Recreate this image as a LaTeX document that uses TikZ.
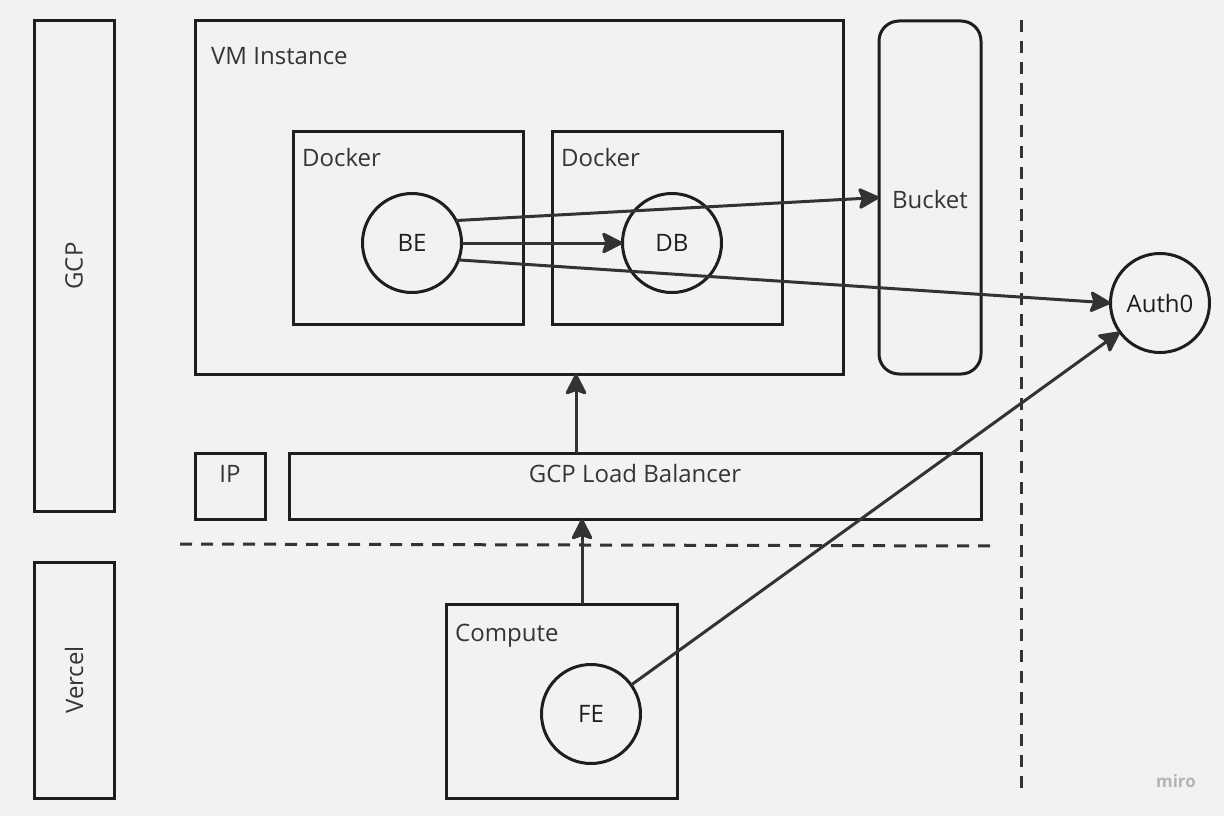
\documentclass[tikz,border=0pt]{standalone}
\usepackage{fontspec}
\setmainfont{Open Sans}
\usetikzlibrary{arrows.meta,calc}
\definecolor{bg}{HTML}{F2F2F2}
\definecolor{ink}{HTML}{1E1E1E}
\definecolor{arrowc}{HTML}{333333}
\definecolor{wm}{HTML}{B4B4B4}
\tikzset{
  box/.style={draw=ink, line width=3pt, rectangle, inner sep=0pt, outer sep=0pt},
  circ/.style={draw=ink, line width=3pt, circle, minimum size=99pt, inner sep=0pt, outer sep=0pt, font=\fontsize{24}{28}\selectfont, text=ink},
  lbl/.style={font=\fontsize{24}{28}\selectfont, text=ink!90, inner sep=0pt},
  arr/.style={draw=arrowc, line width=3pt, -{Stealth[length=23pt,width=23pt,inset=4pt,round]}},
  dash line/.style={draw=arrowc, line width=3pt, dash pattern=on 12pt off 9pt},
}
\begin{document}
\begin{tikzpicture}[x=1pt,y=-1pt]
\fill[bg] (0,0) rectangle (1224,816);
\useasboundingbox (0,0) rectangle (1224,816);

% side boxes
\node[box, minimum width=80pt, minimum height=490pt] (gcp) at (74,266) {};
\node[lbl, rotate=90] (gcpl) at (gcp.center) {GCP};
\node[box, minimum width=80pt, minimum height=236pt] (vercel) at (74,680) {};
\node[lbl, rotate=90] (vercell) at (vercel.center) {Vercel};

% VM instance
\node[box, minimum width=648pt, minimum height=353pt] (vm) at (519,197.5) {};
\node[lbl, anchor=base west] (vml) at (211,64.5) {VM Instance};

% dockers
\node[box, minimum width=230pt, minimum height=193pt] (d1) at (408,227.5) {};
\node[lbl, anchor=base west] (d1l) at (302,166.5) {Docker};
\node[box, minimum width=230pt, minimum height=193pt] (d2) at (667,227.5) {};
\node[lbl, anchor=base west] (d2l) at (561,166.5) {Docker};

\node[circ] (be) at (412,243) {BE};
\node[circ] (db) at (672,243) {DB};

% bucket
\node[box, rounded corners=20pt, minimum width=102pt, minimum height=353pt] (bucket) at (930,197.5) {};
\node[lbl] (bucketl) at (930,199) {Bucket};

% auth0
\node[circ] (auth) at (1160,303) {Auth0};

% IP and LB
\node[box, minimum width=70pt, minimum height=66pt] (ip) at (230,486) {};
\node[lbl, anchor=base] (ipl) at (230,482) {IP};
\node[box, minimum width=692pt, minimum height=66pt] (lb) at (635,486) {};
\node[lbl, anchor=base] (lbl) at (635,482) {GCP Load Balancer};

% compute
\node[box, minimum width=231pt, minimum height=194pt] (comp) at (561.5,701) {};
\node[lbl, anchor=base west] (compl) at (455,641.5) {Compute};
\node[circ] (fe) at (591,714) {FE};

% dashed separators
\coordinate (h1) at (180,544);
\coordinate (h2) at (992,546);
\coordinate (v1) at (1021,20);
\coordinate (v2) at (1021,792);
\draw[dash line] (h1) -- (h2);
\draw[dash line] (v1) -- (v2);

% arrows
\draw[arr] (be.27) -- (bucket.west);
\draw[arr] (be.east) -- (db.west);
\draw[arr] (be.-20) -- (auth.west);
\draw[arr] ([xshift=-59pt]lb.north) -- ([xshift=-59pt]lb.north |- vm.south);
\draw[arr] ([xshift=20.5pt]comp.north) -- ([xshift=20.5pt]comp.north |- lb.south);
\draw[arr] (fe) -- (auth);

% watermark
\node[font=\fontsize{17}{20}\selectfont\bfseries, text=wm, inner sep=0pt] (miro) at (1176,781) {miro};
\end{tikzpicture}
\end{document}
